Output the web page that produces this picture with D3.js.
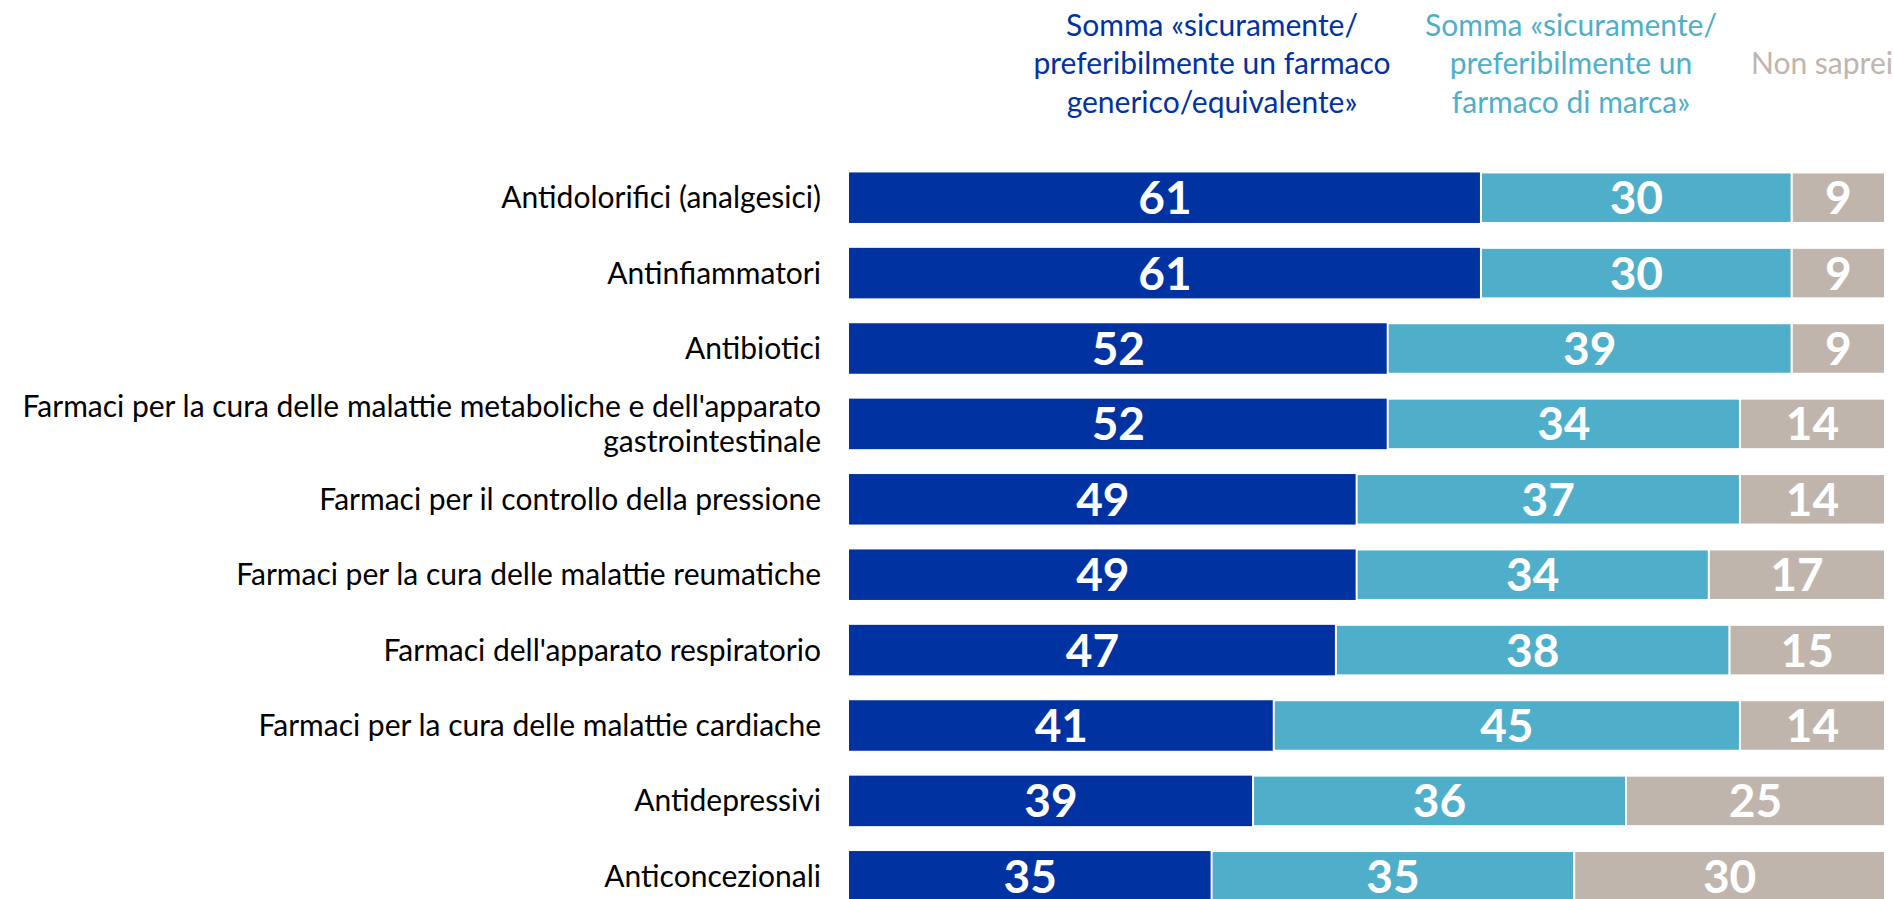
<!DOCTYPE html>
<html>
<head>
<meta charset="utf-8">
<script src="https://cdn.jsdelivr.net/npm/d3@7"></script>
<style>
  html, body { margin: 0; padding: 0; background: #ffffff; overflow: hidden; }
  svg { display: block; font-family: Lato, "Open Sans", sans-serif; }
</style>
</head>
<body>
<div id="chart"></div>
<script>
var categories = [
  ["Antidolorifici (analgesici)"],
  ["Antinfiammatori"],
  ["Antibiotici"],
  ["Farmaci per la cura delle malattie metaboliche e dell'apparato", "gastrointestinale"],
  ["Farmaci per il controllo della pressione"],
  ["Farmaci per la cura delle malattie reumatiche"],
  ["Farmaci dell'apparato respiratorio"],
  ["Farmaci per la cura delle malattie cardiache"],
  ["Antidepressivi"],
  ["Anticoncezionali"]
];
var generico = [61, 61, 52, 52, 49, 49, 47, 41, 39, 35];
var marca = [30, 30, 39, 34, 37, 34, 38, 45, 36, 35];
var nonSaprei = [9, 9, 9, 14, 14, 17, 15, 14, 25, 30];

var seriesKeys = ["generico", "marca", "nonSaprei"];
var seriesColors = {"generico": "#0033a1", "marca": "#4fafcb", "nonSaprei": "#c0b5ad"};
var legendLines = {
  "generico": ["Somma «sicuramente/", "preferibilmente un farmaco", "generico/equivalente»"],
  "marca": ["Somma «sicuramente/", "preferibilmente un", "farmaco di marca»"],
  "nonSaprei": ["", "Non saprei", ""]
};

var w = 1893;
var h = 899;

var svg = d3.select("#chart").append("svg")
  .attr("width", w)
  .attr("height", h);

var rows = categories.map(function(c, i) {
  return {id: i, label: c, generico: generico[i], marca: marca[i], nonSaprei: nonSaprei[i]};
});

var x = d3.scaleLinear().domain([0, 100]).range([849, 1885]);
var y = d3.scaleBand()
  .domain(rows.map(function(d) { return d.id; }))
  .range([160, 914])
  .paddingInner(0.33)
  .paddingOuter(0.165);

var stacked = d3.stack().keys(seriesKeys)(rows);

var layers = svg.selectAll("g.layer")
  .data(stacked)
  .enter()
  .append("g")
  .attr("class", "layer")
  .attr("fill", function(d) { return seriesColors[d.key]; });

layers.selectAll("rect")
  .data(function(d) { return d; })
  .enter()
  .append("rect")
  .attr("x", function(d) { return x(d[0]); })
  .attr("y", function(d) { return y(d.data.id); })
  .attr("width", function(d) { return x(d[1]) - x(d[0]); })
  .attr("height", y.bandwidth())
  .attr("stroke", function() { return d3.select(this.parentNode).datum().key == "generico" ? "none" : "#ffffff"; })
  .attr("stroke-width", 2);

layers.selectAll("text")
  .data(function(d) { return d; })
  .enter()
  .append("text")
  .attr("x", function(d) { return (x(d[0]) + x(d[1])) / 2; })
  .attr("y", function(d) { return y(d.data.id) + y.bandwidth() / 2; })
  .attr("dy", "0.36em")
  .attr("text-anchor", "middle")
  .attr("fill", "#ffffff")
  .attr("font-weight", "bold")
  .attr("font-size", "46px")
  .text(function(d) { return d[1] - d[0]; });

// category labels
var labels = svg.selectAll("text.cat")
  .data(rows)
  .enter()
  .append("text")
  .attr("class", "cat")
  .attr("text-anchor", "end")
  .attr("font-size", "30px")
  .attr("fill", "#000000");

labels.each(function(d) {
  var t = d3.select(this);
  var n = d.label.length;
  var cy = y(d.id) + y.bandwidth() / 2;
  d.label.forEach(function(line, k) {
    t.append("tspan")
      .attr("x", 821)
      .attr("y", cy + (k - (n - 1) / 2) * 35)
      .attr("dy", "0.35em")
      .text(line);
  });
});

// legend header
var legendX = {"generico": 1212, "marca": 1571, "nonSaprei": 1751};
var legendAnchor = {"generico": "middle", "marca": "middle", "nonSaprei": "start"};
seriesKeys.forEach(function(k) {
  var t = svg.append("text")
    .attr("text-anchor", legendAnchor[k])
    .attr("font-size", "30px")
    .attr("fill", seriesColors[k]);
  legendLines[k].forEach(function(line, j) {
    if (line == "") return;
    t.append("tspan")
      .attr("x", legendX[k])
      .attr("y", 25 + j * 38.5)
      .attr("dy", "0.35em")
      .text(line);
  });
});
</script>
</body>
</html>
